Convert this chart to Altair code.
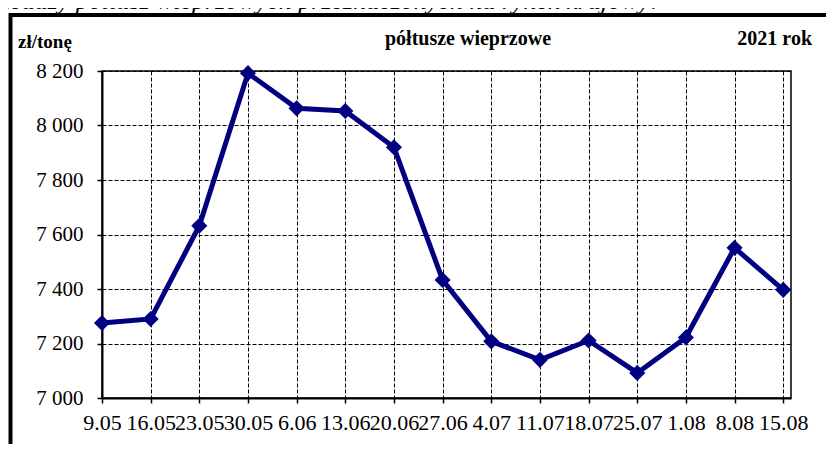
import altair as alt
import pandas as pd

dates = ["9.05", "16.05", "23.05", "30.05", "6.06", "13.06", "20.06", "27.06",
         "4.07", "11.07", "18.07", "25.07", "1.08", "8.08", "15.08"]
prices = [7275, 7290, 7632, 8192, 8063, 8053, 7920, 7433,
          7208, 7140, 7211, 7092, 7222, 7551, 7397]
y_ticks = [7000, 7200, 7400, 7600, 7800, 8000, 8200]

unit_label = "zł/tonę"
title_label = "półtusze  wieprzowe"
year_label = "2021 rok"
caption = "zedaży półtusz wieprzowych przeznaczonych na rynek krajowy:"

df = pd.DataFrame({"i": list(range(len(dates))), "date": dates, "price": prices})
one = pd.DataFrame({"k": [0]})

FONT = "Liberation Serif"
NAVY = "#000080"

label_list = "[" + ",".join("'" + d + "'" for d in dates) + "]"

x_enc = alt.X(
    "i:Q",
    scale=alt.Scale(domain=[0, 14.16], nice=False, zero=False),
    axis=alt.Axis(
        values=list(range(len(dates))),
        labelExpr=label_list + "[datum.value]",
        title=None,
        grid=True,
        gridColor="black",
        gridDash=[4, 2],
        gridWidth=1,
        domainColor="black",
        domainWidth=2,
        tickColor="black",
        tickSize=5,
        tickWidth=1.5,
        labelFont=FONT,
        labelFontSize=22,
        labelColor="black",
        labelPadding=9,
        labelOverlap=False,
        labelFlush=False,
        labelBound=False,
    ),
)
y_enc = alt.Y(
    "price:Q",
    scale=alt.Scale(domain=[7000, 8200], nice=False, zero=False),
    axis=alt.Axis(
        values=y_ticks,
        labelExpr="replace(format(datum.value, ',d'), ',', ' ')",
        title=None,
        grid=True,
        gridColor="black",
        gridDash=[4, 2],
        gridWidth=1,
        domainColor="black",
        domainWidth=2,
        tickColor="black",
        tickSize=5,
        tickWidth=1.5,
        labelFont=FONT,
        labelFontSize=21,
        labelColor="black",
        labelPadding=14,
        labelOverlap=False,
        labelFlush=False,
    ),
)

base = alt.Chart(df)
line = base.mark_line(color=NAVY, strokeWidth=5).encode(x=x_enc, y=y_enc)
points = base.mark_point(shape="diamond", filled=True, size=260, color=NAVY, opacity=1).encode(
    x="i:Q", y="price:Q"
)

frame = alt.Chart(one).mark_rect(fill=None, stroke="black", strokeWidth=4).encode(
    x=alt.value(-91.5), x2=alt.value(760), y=alt.value(-56), y2=alt.value(430)
)

def txt(s, x, y, align, size, weight="bold", style="normal"):
    return alt.Chart(one).mark_text(
        text=s, font=FONT, fontSize=size, fontWeight=weight, fontStyle=style,
        align=align, baseline="alphabetic", color="black"
    ).encode(x=alt.value(x), y=alt.value(y))

t_unit = txt(unit_label, -84, -23, "left", 19)
t_title = txt(title_label, 366, -26, "center", 20)
t_year = txt(year_label, 710, -26, "right", 20)
t_caption = txt(caption, -102, -62, "left", 26, weight="normal", style="italic")

chart = alt.layer(frame, t_caption, t_unit, t_title, t_year, line, points).properties(
    width=689,
    height=327,
    autosize=alt.AutoSizeParams(type="none"),
    padding={"left": 94, "top": 63, "right": 35, "bottom": 46},
    background="white",
).configure_view(stroke="black", strokeWidth=1.5)

chart.save("out.html", embed_options={"renderer": "svg", "actions": False})
